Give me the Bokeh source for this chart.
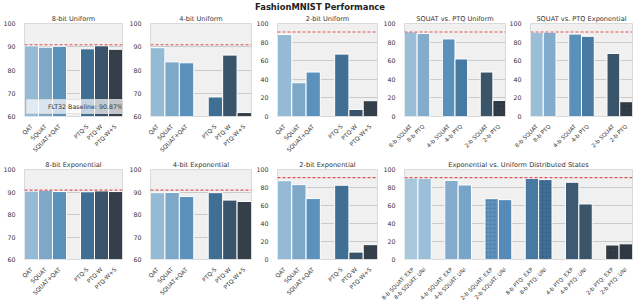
from bokeh.plotting import figure
from bokeh.models import (FactorRange, Range1d, Span, Legend, LegendItem,
                          FixedTicker, Div, ColumnDataSource)
from bokeh.layouts import column, row
from bokeh.embed import file_html
from bokeh.resources import INLINE

# ---------------- data ----------------
BASELINE = 90.87

METHODS = ["QAT", "SQUAT", "SQUAT+QAT", "PTQ-S", "PTQ-W", "PTQ-W+S"]
U8 = [90.4, 89.8, 90.2, 89.1, 90.4, 88.9]
U4 = [89.6, 83.5, 83.1, 68.4, 86.4, 61.7]
U2 = [88.2, 36.3, 47.8, 67.1, 7.6, 17.0]
E8 = [90.4, 90.8, 90.2, 90.1, 90.5, 90.2]
E4 = [89.7, 89.8, 88.0, 89.7, 86.4, 85.8]
E2 = [87.6, 83.2, 67.7, 82.5, 8.2, 16.5]

CMP = ["8-b SQUAT", "8-b PTQ", "4-b SQUAT", "4-b PTQ", "2-b SQUAT", "2-b PTQ"]
CMP_U = [91.0, 89.3, 83.4, 61.9, 47.8, 17.3]
CMP_E = [90.7, 90.7, 88.6, 86.2, 67.8, 15.9]

EU = ["8-b SQUAT: EXP", "8-b SQUAT: UNI", "4-b SQUAT: EXP", "4-b SQUAT: UNI",
      "2-b SQUAT: EXP", "2-b SQUAT: UNI", "8-b PTQ: EXP", "8-b PTQ: UNI",
      "4-b PTQ: EXP", "4-b PTQ: UNI", "2-b PTQ: EXP", "2-b PTQ: UNI"]
EU_VALS = [90.5, 90.2, 87.9, 82.8, 67.6, 66.5, 90.1, 88.8, 85.8, 61.7, 16.1, 17.4]

TICKS_HI = [60, 70, 80, 90, 100]
TICKS_FULL = [0, 20, 40, 60, 80, 100]

# ---------------- styles ----------------
PAL6 = ["#94bad6", "#7ea8c8", "#5b92bd", "#406f94", "#39546a", "#343f4a"]
PAL_CMP = ["#9bbed8", "#83abcb", "#5a91bb", "#467aa3", "#3a5469", "#333d47"]
PAL12 = ["#a8c6dc", "#9cbed8", "#85accd", "#78a4c8", "#5d92be", "#568bb7",
         "#467aa2", "#3f6f96", "#3e5a72", "#3a5469", "#343e48", "#303942"]
HATCH_CMP = ["", "", "", "", "", "."]
HATCH_EU = ["", "", "", "", ".", "", "", ".", "", "", ".", ""]

FONT = "DejaVu Sans"
DASH = "3 2"
RED = "#dd4444"


def factors_with_gaps(labels, group):
    out = []
    for i, lab in enumerate(labels):
        if i > 0 and i % group == 0:
            out.append(" " * (i // group))
        out.append(lab)
    return out


def make_fig(title, labels, values, colors, group, ticks, width, right,
             frame_h, bottom, label_size="5.8px", hatch=None, legend=False):
    facs = factors_with_gaps(labels, group)
    p = figure(x_range=FactorRange(*facs, range_padding=0),
               y_range=Range1d(ticks[0], ticks[-1]),
               width=width, height=10 + frame_h + bottom, output_backend="svg",
               toolbar_location=None,
               min_border_left=17, min_border_right=right,
               min_border_top=10, min_border_bottom=bottom)
    p.background_fill_color = "#f0f0f0"
    p.border_fill_color = "white"
    p.outline_line_color = "#dadada"
    p.outline_line_width = 1

    p.title.text = title
    p.title.align = "center"
    p.title.text_font = FONT
    p.title.text_font_size = "6.6px"
    p.title.text_font_style = "normal"
    p.title.text_color = "#333333"
    p.title.standoff = 1
    p.title.offset = 0

    p.xgrid.visible = False
    p.ygrid.ticker = FixedTicker(ticks=ticks)
    p.ygrid.grid_line_color = "#cbcbcb"
    p.ygrid.grid_line_width = 1

    p.yaxis.ticker = FixedTicker(ticks=ticks)
    p.yaxis.axis_line_color = None
    p.yaxis.major_tick_line_color = None
    p.yaxis.minor_tick_line_color = None
    p.yaxis.major_label_text_font = FONT
    p.yaxis.major_label_text_font_size = "6.3px"
    p.yaxis.major_label_text_color = "#333333"
    p.yaxis.major_label_standoff = 3

    p.xaxis.axis_line_color = None
    p.xaxis.major_tick_line_color = None
    p.xaxis.minor_tick_line_color = None
    p.xaxis.major_label_text_font = FONT
    p.xaxis.major_label_text_font_size = label_size
    p.xaxis.major_label_text_color = "#333333"
    p.xaxis.major_label_orientation = 0.785398
    p.xaxis.major_label_standoff = 3

    src = ColumnDataSource(dict(x=labels, top=values, color=colors,
                                hatch=hatch if hatch else [""] * len(labels)))
    p.vbar(x="x", top="top", bottom=0, width=1.0, source=src,
           fill_color="color", line_color="white", line_width=1,
           hatch_pattern="hatch", hatch_color="black", hatch_alpha=0.16,
           hatch_scale=4, hatch_weight=0.4)

    span = Span(location=BASELINE, dimension="width", line_color=RED,
                line_dash=DASH, line_width=1.2, line_alpha=0.9)
    p.add_layout(span)

    if legend:
        dummy = p.line(x=[], y=[], line_color=RED, line_dash=DASH,
                       line_width=1.2, line_alpha=0.9)
        lg = Legend(items=[LegendItem(label="FLT32 Baseline: 90.87%",
                                      renderers=[dummy])],
                    location="bottom_left")
        lg.label_text_font = FONT
        lg.label_text_font_size = "6.3px"
        lg.label_text_color = "#333333"
        lg.glyph_width = 15
        lg.glyph_height = 6
        lg.label_height = 6
        lg.label_standoff = 3
        lg.padding = 3
        lg.margin = 2
        lg.spacing = 0
        lg.background_fill_color = "white"
        lg.background_fill_alpha = 0.7
        lg.border_line_color = "#cccccc"
        lg.border_line_width = 1
        p.add_layout(lg)
    return p


H1, B1 = 97, 39
H2, B2 = 98, 40

r1 = [
    make_fig("8-bit Uniform", METHODS, U8, PAL6, 3, TICKS_HI, 126, 4, H1, B1, legend=True),
    make_fig("4-bit Uniform", METHODS, U4, PAL6, 3, TICKS_HI, 127, 2, H1, B1),
    make_fig("2-bit Uniform", METHODS, U2, PAL6, 3, TICKS_FULL, 127, 3, H1, B1),
    make_fig("SQUAT vs. PTQ Uniform", CMP, CMP_U, PAL_CMP, 2, TICKS_FULL, 126, 1, H1, B1,
             label_size="5.6px", hatch=HATCH_CMP),
    make_fig("SQUAT vs. PTQ Exponential", CMP, CMP_E, PAL_CMP, 2, TICKS_FULL, 134, 8, H1, B1,
             label_size="5.6px", hatch=HATCH_CMP),
]
r2 = [
    make_fig("8-bit Exponential", METHODS, E8, PAL6, 3, TICKS_HI, 126, 4, H2, B2),
    make_fig("4-bit Exponential", METHODS, E4, PAL6, 3, TICKS_HI, 127, 2, H2, B2),
    make_fig("2-bit Exponential", METHODS, E2, PAL6, 3, TICKS_FULL, 127, 3, H2, B2),
    make_fig("Exponential vs. Uniform Distributed States", EU, EU_VALS, PAL12, 2,
             TICKS_FULL, 260, 8, H2, B2, label_size="5.5px", hatch=HATCH_EU),
]

title = Div(text="FashionMNIST Performance", width=640, height=12, margin=0,
            styles={"text-align": "center", "font-size": "8.4px",
                    "font-weight": "bold", "font-family": FONT,
                    "line-height": "14px", "color": "#222222",
                    "width": "100%"})

layout = column(title, row(*r1), row(*r2))

with open("out.html", "w") as f:
    f.write(file_html(layout, INLINE))
